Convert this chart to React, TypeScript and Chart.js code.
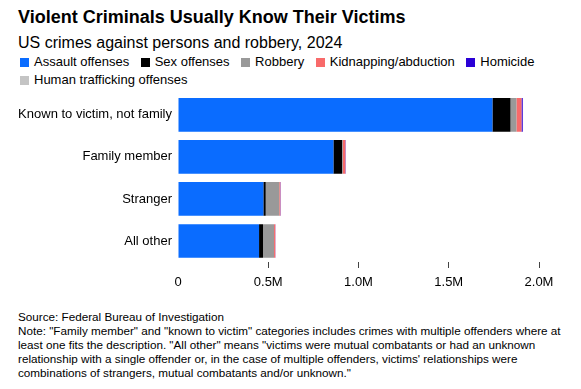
import React, { useEffect, useRef } from "react";
import { Chart, registerables } from "chart.js";

Chart.register(...registerables);

const categories = ["Known to victim, not family", "Family member", "Stranger", "All other"];
const assault = [1742000, 861000, 473000, 449000];
const sexOffenses = [100000, 48000, 13000, 22000];
const robbery = [33000, 4000, 75000, 61000];
const kidnapping = [28000, 14000, 6000, 7000];
const homicide = [7000, 2000, 2000, 1000];
const trafficking = [1500, 500, 300, 300];

const seriesNames = [
  "Assault offenses",
  "Sex offenses",
  "Robbery",
  "Kidnapping/abduction",
  "Homicide",
  "Human trafficking offenses",
];
const seriesColors = ["#0a6cff", "#000000", "#999999", "#f86a6a", "#2a00d6", "#c4c4c4"];
const seriesValues = [assault, sexOffenses, robbery, kidnapping, homicide, trafficking];

const xTickValues = [0, 500000, 1000000, 1500000, 2000000];

const FONT = "'Liberation Sans', Arial, Helvetica, sans-serif";

function fmtTick(v: number): string {
  if (v === 0) return "0";
  return (v / 1000000).toFixed(1) + "M";
}

export default function App() {
  const canvasRef = useRef<HTMLCanvasElement | null>(null);

  useEffect(() => {
    if (!canvasRef.current) return;
    const chart = new Chart(canvasRef.current, {
      type: "bar",
      data: {
        labels: categories,
        datasets: seriesNames.map((name, i) => ({
          label: name,
          data: seriesValues[i],
          backgroundColor: seriesColors[i],
          borderWidth: 0,
          barPercentage: 0.8,
          categoryPercentage: 1,
        })),
      },
      options: {
        indexAxis: "y",
        responsive: false,
        animation: false,
        devicePixelRatio: 1,
        layout: { padding: { top: 4, right: 42, left: 0, bottom: 0 }, autoPadding: false },
        plugins: { legend: { display: false }, tooltip: { enabled: false }, title: { display: false } },
        scales: {
          x: {
            stacked: true,
            min: 0,
            max: 2000000,
            afterBuildTicks: (scale: any) => {
              scale.ticks = xTickValues.map((v) => ({ value: v }));
            },
            afterFit: (scale: any) => {
              scale.height = 38;
            },
            border: { display: false },
            grid: {
              display: true,
              drawOnChartArea: false,
              drawTicks: true,
              tickLength: 6,
              color: (ctx: any) => (ctx.tick && ctx.tick.value === 0 ? "rgba(0,0,0,0)" : "#444444"),
            },
            ticks: {
              padding: 7,
              color: "#000000",
              font: { family: FONT, size: 13 },
              maxRotation: 0,
              autoSkip: false,
              callback: (v: any) => fmtTick(Number(v)),
            },
          },
          y: {
            stacked: true,
            afterFit: (scale: any) => {
              scale.width = 178;
            },
            border: { display: false },
            grid: { display: false, drawTicks: false },
            ticks: {
              padding: 6,
              color: "#000000",
              font: { family: FONT, size: 13 },
            },
          },
        },
      },
    });
    return () => chart.destroy();
  }, []);

  const textBase: React.CSSProperties = { fontFamily: FONT, color: "#000", position: "absolute", whiteSpace: "nowrap" };

  return (
    <div style={{ position: "absolute", left: 0, top: 0, width: 581, height: 389, background: "#fff", overflow: "hidden" }}>
      <div style={{ ...textBase, left: 18, top: 8.4, fontSize: 18, lineHeight: "18px", fontWeight: 700 }}>
        Violent Criminals Usually Know Their Victims
      </div>
      <div style={{ ...textBase, left: 18, top: 35, fontSize: 16, lineHeight: "16px" }}>
        US crimes against persons and robbery, 2024
      </div>
      <div
        style={{
          ...textBase,
          whiteSpace: "normal",
          left: 20,
          top: 53.2,
          width: 545,
          display: "flex",
          flexWrap: "wrap",
          columnGap: 11.5,
          fontSize: 13,
          lineHeight: "18px",
        }}
      >
        {seriesNames.map((name, i) => (
          <div key={name} style={{ display: "flex", alignItems: "center", whiteSpace: "nowrap" }}>
            <span style={{ display: "inline-block", width: 9, height: 9, background: seriesColors[i], marginRight: 5 }} />
            <span>{name}</span>
          </div>
        ))}
      </div>
      <canvas
        ref={canvasRef}
        width={581}
        height={220}
        style={{ position: "absolute", left: 0, top: 80, width: 581, height: 220 }}
      />
      <div style={{ ...textBase, left: 18, top: 309.5, fontSize: 11.7, lineHeight: "14px" }}>
        Source: Federal Bureau of Investigation
        <br />
        Note: "Family member" and "known to victim" categories includes crimes with multiple offenders where at
        <br />
        least one fits the description. "All other" means "victims were mutual combatants or had an unknown
        <br />
        relationship with a single offender or, in the case of multiple offenders, victims' relationships were
        <br />
        combinations of strangers, mutual combatants and/or unknown."
      </div>
    </div>
  );
}
